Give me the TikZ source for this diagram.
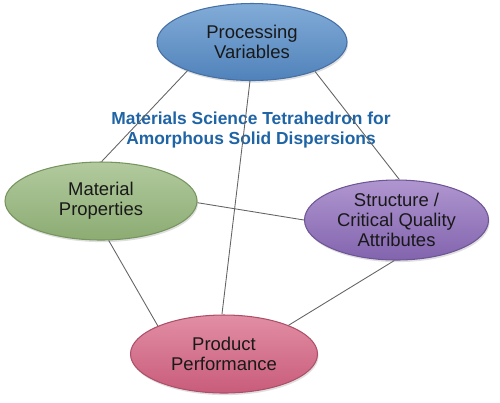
\documentclass[tikz,border=0pt]{standalone}
\usepackage{fontspec}
\setmainfont{Liberation Sans}
\usepackage{tikz}
\usetikzlibrary{shapes.geometric,shadows}
\definecolor{pvtop}{RGB}{130,172,216}
\definecolor{pvbot}{RGB}{80,130,186}
\definecolor{pvline}{RGB}{70,112,165}
\definecolor{mptop}{RGB}{178,202,158}
\definecolor{mpbot}{RGB}{140,172,115}
\definecolor{mpline}{RGB}{118,148,95}
\definecolor{sqtop}{RGB}{176,150,208}
\definecolor{sqbot}{RGB}{130,100,174}
\definecolor{sqline}{RGB}{110,86,150}
\definecolor{pptop}{RGB}{226,142,164}
\definecolor{ppbot}{RGB}{200,92,122}
\definecolor{ppline}{RGB}{172,80,105}
\definecolor{titleblue}{RGB}{31,100,165}
\definecolor{textdark}{RGB}{25,25,25}
\definecolor{tielink}{RGB}{100,100,100}
\tikzset{
  bubble/.style={ellipse,draw,line width=0.6pt,text=textdark,align=center,
    font=\fontsize{10.5}{11.2}\selectfont,inner sep=0pt,
    drop shadow={opacity=0.25,shadow xshift=0.6pt,shadow yshift=-1.2pt}},
  tie/.style={tielink,line width=0.5pt}
}

\begin{document}
\begin{tikzpicture}
    \useasboundingbox (0,0) rectangle (10,-8.04);

    \node[bubble,draw=pvline,top color=pvtop,bottom color=pvbot,
          minimum width=3.8cm,minimum height=1.54cm] (pv) at (5.04,-0.84) {Processing\\Variables};
    \node[bubble,draw=mpline,top color=mptop,bottom color=mpbot,
          minimum width=3.84cm,minimum height=1.56cm] (mp) at (2.02,-4.02) {Material\\Properties};
    \node[bubble,draw=sqline,top color=sqtop,bottom color=sqbot,
          minimum width=3.68cm,minimum height=1.6cm] (sq) at (7.93,-4.4) {Structure /\\Critical Quality\\Attributes};
    \node[bubble,draw=ppline,top color=pptop,bottom color=ppbot,
          minimum width=3.74cm,minimum height=1.56cm] (pp) at (4.48,-7.08) {Product\\Performance};

    \node[text=titleblue,font=\fontsize{9.9}{11.3}\bfseries,align=center] (title) at (5.02,-2.6)
      {Materials Science Tetrahedron for\\Amorphous Solid Dispersions};

    % edges of the tetrahedron
    \draw[tie] (pv.204) -- (mp.89);
    \draw[tie] (pv.267) -- (pp.93);
    \draw[tie] (pv.335) -- (sq.86);
    \draw[tie] (mp.359) -- (sq.180);
    \draw[tie] (mp.281) -- (pp.157);
    \draw[tie] (sq.267) -- (pp.24);
\end{tikzpicture}
\end{document}
